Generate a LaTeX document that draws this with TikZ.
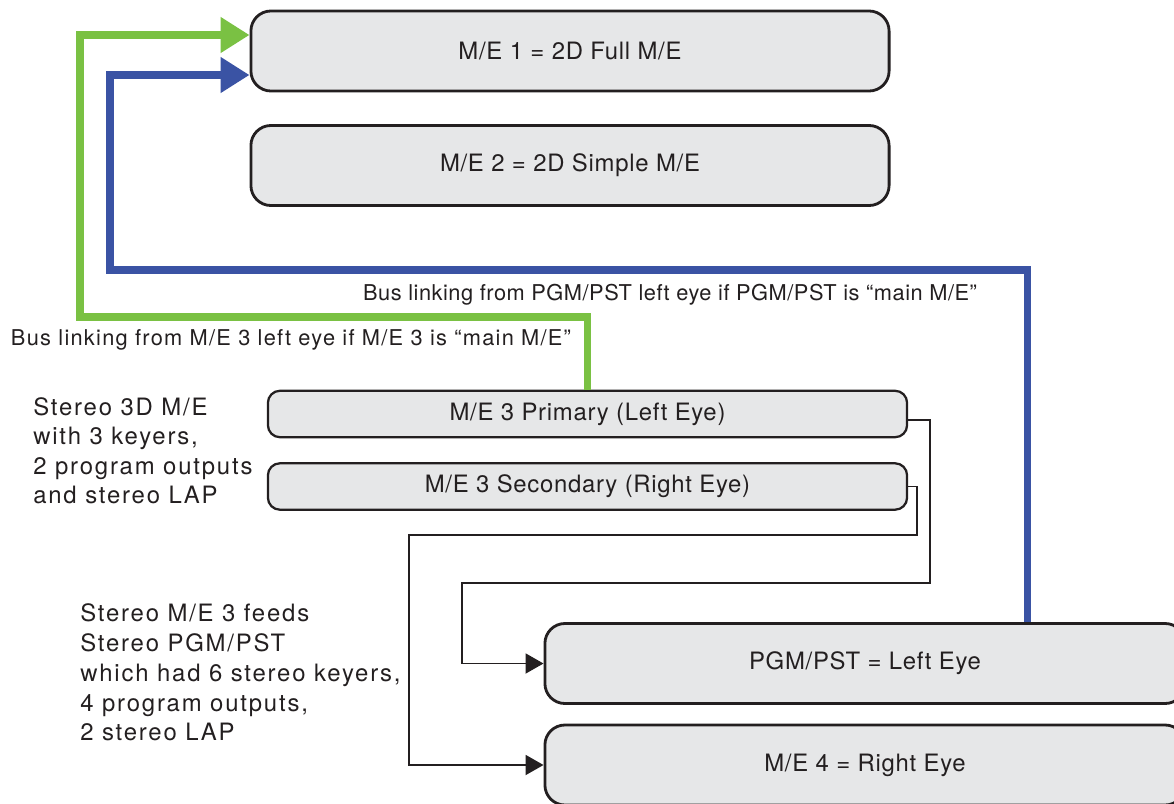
\documentclass[tikz,border=0pt]{standalone}
\usepackage{fontspec}
\setmainfont{TeX Gyre Heros}
\usetikzlibrary{positioning, arrows.meta, calc}
\definecolor{boxgray}{HTML}{E6E7E8}
\definecolor{busgreen}{HTML}{7AC143}
\definecolor{busblue}{HTML}{3A53A4}
\definecolor{ink}{HTML}{231F20}

\begin{document}
\begin{tikzpicture}[
  x=0.025cm, y=-0.025cm,
  every node/.style={text=ink, font=\fontsize{15.5}{21}\selectfont\addfontfeature{LetterSpace=3.5}},
  bigbox/.style={draw=ink, fill=boxgray, line width=2pt, rounded corners=0.5cm,
    minimum width=15.95cm, minimum height=2cm,
    font=\fontsize{17}{22}\selectfont\addfontfeature{LetterSpace=3}},
  thinbox/.style={draw=ink, fill=boxgray, line width=1.6pt, rounded corners=0.3cm,
    minimum width=15.975cm, minimum height=1.16cm,
    font=\fontsize{17}{22}\selectfont\addfontfeature{LetterSpace=3}},
  greenbus/.style={draw=busgreen, line width=5pt, -{Triangle[length=0.72cm,width=0.85cm]}},
  bluebus/.style={draw=busblue, line width=5pt, -{Triangle[length=0.72cm,width=0.85cm]}},
  feed/.style={draw=ink, line width=1.4pt, -{Triangle[length=0.45cm,width=0.5cm]}},
  note/.style={align=left, inner sep=0pt}
]
\useasboundingbox (0,0) rectangle (1174,803);

\node[bigbox] (me1) at (570,51) {M/E 1 = 2D Full M/E};
\node[bigbox] (me2) at (570,165.5) {M/E 2 = 2D Simple M/E};

\node[thinbox] (me3p) at (587.5,414) {M/E 3 Primary (Left Eye)};
\node[thinbox] (me3s) at (587.5,486.5) {M/E 3 Secondary (Right Eye)};

\node[bigbox, minimum width=16cm] (pgm) at (865,663.5) {PGM/PST = Left Eye};
\node[bigbox, minimum width=16cm] (me4) at (865,765) {M/E 4 = Right Eye};

% bus links back to M/E 1
\draw[greenbus] (me3p.north) |- (80,317) |- ([yshift=0.4cm]me1.west);
\draw[bluebus] ([xshift=4.05cm]pgm.north) |- (110,270) |- ([yshift=-0.6cm]me1.west);

\node[font=\fontsize{15.5}{21}\selectfont\addfontfeature{LetterSpace=2.4}] (lblblue) at (670,295) {Bus linking from PGM/PST left eye if PGM/PST is \textquotedblleft main M/E\textquotedblright};
\node[font=\fontsize{15.5}{21}\selectfont\addfontfeature{LetterSpace=5.8}] (lblgreen) at (291,340) {Bus linking from M/E 3 left eye if M/E 3 is \textquotedblleft main M/E\textquotedblright};

% stereo feeds
\coordinate (pjoin) at (462,583);
\coordinate (sjoin) at (409,535);
\draw[feed] ([yshift=-0.15cm]me3p.east) -| (930,583) -- (pjoin) |- (pgm.west);
\draw[feed] (me3s.east) -| (917,535) -- (sjoin) |- (me4.west);

\node[note, anchor=north west, font=\fontsize{17}{21}\selectfont\addfontfeature{LetterSpace=7.6}] (n3d) at (33,397) {Stereo 3D M/E\\with 3 keyers,\\2 program outputs\\and stereo LAP};
\node[note, anchor=north west, font=\fontsize{17}{21.3}\selectfont\addfontfeature{LetterSpace=7.6}] (npgm) at (80,603) {Stereo M/E 3 feeds\\Stereo PGM/PST\\which had 6 stereo keyers,\\4 program outputs,\\2 stereo LAP};

\end{tikzpicture}
\end{document}
